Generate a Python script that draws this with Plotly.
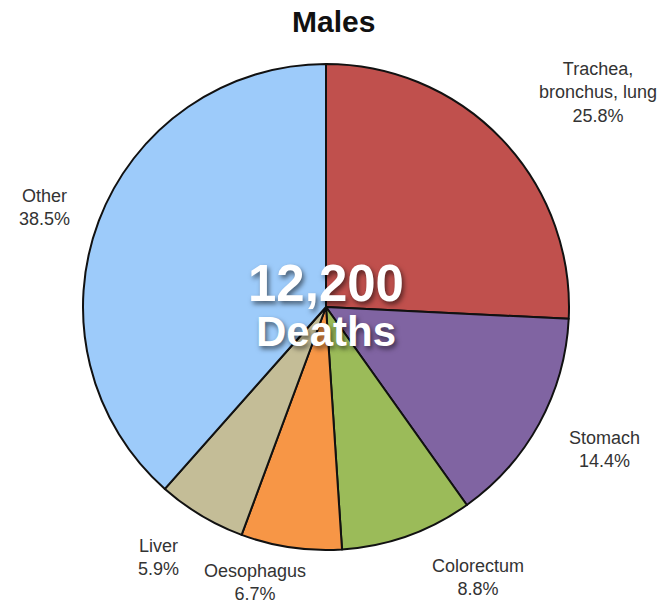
import plotly.graph_objects as go

W, H = 671, 604

sites = ["Trachea,<br>bronchus, lung", "Stomach", "Colorectum", "Oesophagus", "Liver", "Other"]
shares = [25.8, 14.4, 8.8, 6.7, 5.9, 38.5]
colors = ["#C0504D", "#8064A2", "#9BBB59", "#F79646", "#C4BD97", "#9DCBFA"]
# label anchor points (pixels from top-left)
label_xy = [(598, 92), (604, 449), (478, 577), (255, 582), (158, 557), (44, 207)]
total_deaths = "12,200"

cx, cy, r = 326, 307, 243

fig = go.Figure(go.Pie(
    labels=sites,
    values=shares,
    sort=False,
    direction="clockwise",
    rotation=0,
    marker=dict(colors=colors, line=dict(color="#111111", width=2)),
    textinfo="none",
    hoverinfo="label+percent",
    domain=dict(x=[(cx - r) / W, (cx + r) / W],
                y=[(H - cy - r) / H, (H - cy + r) / H]),
    showlegend=False,
))

annotations = []
for name, val, (x, y) in zip(sites, shares, label_xy):
    annotations.append(dict(
        x=x / W, y=1 - y / H, xref="paper", yref="paper",
        text=f"{name}<br>{val}%", showarrow=False,
        font=dict(family="Liberation Sans, Arial", size=18, color="#333333"),
        xanchor="center", yanchor="middle", align="center",
    ))

annotations.append(dict(
    x=333 / W, y=1 - 22 / H, xref="paper", yref="paper",
    text="<b>Males</b>", showarrow=False,
    font=dict(family="Liberation Sans, Arial", size=30, color="#111111"),
    xanchor="center", yanchor="middle",
))
annotations.append(dict(
    x=cx / W, y=1 - 283 / H, xref="paper", yref="paper",
    text=f"<b>{total_deaths}</b>", showarrow=False,
    font=dict(family="Liberation Sans, Arial", size=51, color="white",
              shadow="2px 3px 5px rgba(0,0,0,0.55)"),
    xanchor="center", yanchor="middle",
))
annotations.append(dict(
    x=cx / W, y=1 - 331 / H, xref="paper", yref="paper",
    text="<b>Deaths</b>", showarrow=False,
    font=dict(family="Liberation Sans, Arial", size=42, color="white",
              shadow="2px 3px 5px rgba(0,0,0,0.55)"),
    xanchor="center", yanchor="middle",
))

fig.update_layout(
    width=W, height=H,
    margin=dict(l=0, r=0, t=0, b=0),
    paper_bgcolor="white",
    plot_bgcolor="white",
    annotations=annotations,
)

fig.write_html("out.html")
